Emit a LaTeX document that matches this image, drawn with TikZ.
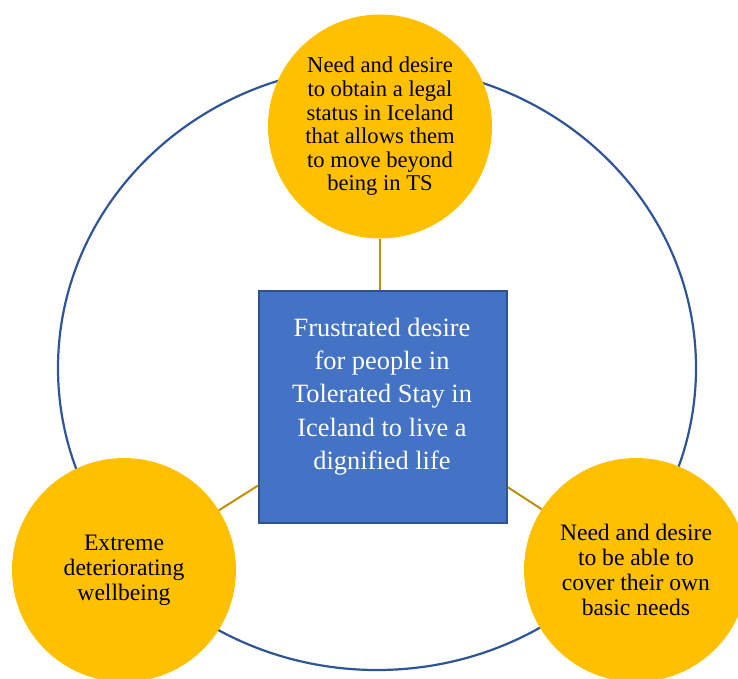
\documentclass[tikz,border=0pt]{standalone}
\usepackage{fontspec}
\setmainfont{Liberation Serif}
\definecolor{ringblue}{HTML}{2F5597}
\definecolor{hubfill}{HTML}{4472C4}
\definecolor{hubedge}{HTML}{2F528F}
\definecolor{petal}{HTML}{FFC000}
\definecolor{linkgold}{HTML}{BF9000}
\begin{document}
\begin{tikzpicture}[x=1pt,y=-1pt,
  ring/.style={draw=ringblue,line width=2.2pt},
  petalnode/.style={circle,fill=petal,inner sep=0pt,minimum size=224pt,align=center,text=black},
  hubbox/.style={rectangle,fill=hubfill,draw=hubedge,line width=2pt,minimum width=248pt,minimum height=232pt,inner sep=0pt},
  hubtext/.style={align=center,text=white,font=\fontsize{26.4}{33.2}\selectfont},
  link/.style={draw=linkgold,line width=2pt}]
\useasboundingbox (0,0) rectangle (738,678);
\clip (0,0) rectangle (738,678);

% outer cycle
\draw[ring] (377,368) ellipse [x radius=319pt, y radius=302pt];

% central box and its text
\node[hubbox] (hub) at (383,407) {};
\node[hubtext] (hubcaption) at (382,396.5) {Frustrated desire\\for people in\\Tolerated Stay in\\Iceland to live a\\dignified life};

% three surrounding needs
\node[petalnode,font=\fontsize{22.6}{23.6}\selectfont] (top) at (380,126.5)
  {Need and desire\\to obtain a legal\\status in Iceland\\that allows them\\to move beyond\\being in TS};
\node[petalnode,font=\fontsize{23.6}{25}\selectfont] (left) at (124,570)
  {Extreme\\deteriorating\\wellbeing};
\node[petalnode,font=\fontsize{23.6}{25}\selectfont] (right) at (636,570)
  {Need and desire\\to be able to\\cover their own\\basic needs};

% connectors
\draw[link] (top.south) -- (top.south |- hub.north);
\draw[link] (hub) -- (left);
\draw[link] (hub) -- (right);
\end{tikzpicture}
\end{document}
